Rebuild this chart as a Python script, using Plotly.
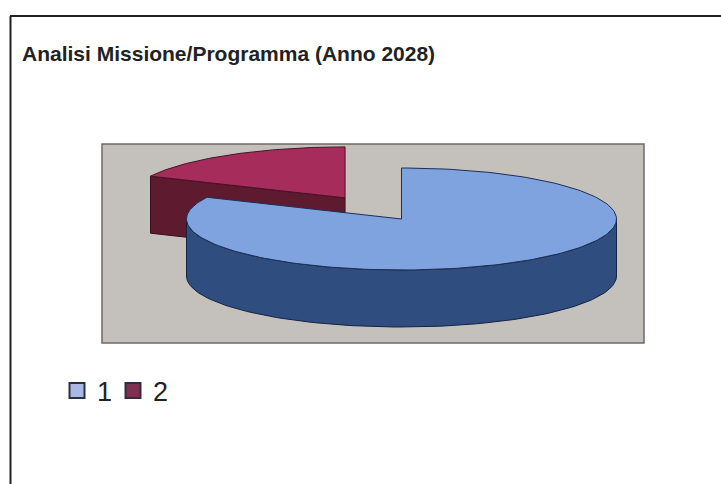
import numpy as np
import plotly.graph_objects as go

title = "Analisi Missione/Programma (Anno 2028)"
categories = ["1", "2"]
values = [82, 18]

top_colors = ["#7fa3de", "#a62c5c"]
side_colors = ["#2f4d7f", "#5e1a2e"]
swatch_colors = ["#a9b8e6", "#7d3050"]

W, H = 721, 484
cx, cy, rx, ry, depth = 401.5, 219, 215, 51, 57
explode = 0.49

fractions = np.array(values) / sum(values)
split = 2 * np.pi * fractions[0]


def pt(theta, ox=0.0, oy=0.0):
    return cx + ox + rx * np.sin(theta), cy + oy - ry * np.cos(theta)


fig = go.Figure()


def poly(x, y, fill, line="rgba(0,0,0,0)", width=1):
    fig.add_trace(go.Scatter(x=list(x) + [x[0]], y=list(y) + [y[0]], mode="lines", fill="toself",
                             fillcolor=fill, line=dict(color=line, width=width),
                             hoverinfo="skip", showlegend=False))


# exploded slice 2
mid = (split + 2 * np.pi) / 2
ox, oy = explode * rx * np.sin(mid), -explode * ry * np.cos(mid)
ax, ay = cx + ox, cy + oy
t2 = np.linspace(split, 2 * np.pi, 80)
ex, ey = pt(t2, ox, oy)
x0, y0 = pt(split, ox, oy)
poly([x0, ax, ax, x0], [y0, ay, ay + depth, y0 + depth], side_colors[1], "#3a1020")
poly([ax] + list(ex), [ay] + list(ey), top_colors[1], "#4a1226")

# slice 1: front wall, then top
t1 = np.linspace(np.pi / 2, 3 * np.pi / 2, 120)
sx, sy = pt(t1)
poly(list(sx) + list(sx[::-1]), list(sy) + list(sy[::-1] + depth), side_colors[0], "#14233f")
t1 = np.linspace(0, split, 200)
tx, ty = pt(t1)
poly([cx] + list(tx), [cy] + list(ty), top_colors[0], "#1c2f55")

# legend entries
for name, col in zip(categories, swatch_colors):
    fig.add_trace(go.Scatter(x=[None], y=[None], mode="markers", name=name,
                             marker=dict(symbol="square", size=15, color=col,
                                         line=dict(color="#2b3040", width=2))))

fig.update_layout(
    width=W, height=H, margin=dict(l=0, r=0, t=0, b=0),
    paper_bgcolor="white", plot_bgcolor="white",
    xaxis=dict(range=[0, W], visible=False, fixedrange=True),
    yaxis=dict(range=[H, 0], visible=False, fixedrange=True),
    title=dict(text=f"<b>{title}</b>", x=22 / W, xanchor="left", y=1 - 54 / H, yanchor="middle",
               font=dict(family="Liberation Sans", size=21, color="#222222")),
    legend=dict(orientation="h", x=57 / W, y=1 - 391 / H, xanchor="left", yanchor="middle",
                font=dict(family="Liberation Sans", size=27, color="#222222"),
                bgcolor="rgba(0,0,0,0)", itemwidth=30, entrywidth=11, entrywidthmode="pixels"),
    shapes=[
        dict(type="rect", xref="x", yref="y", x0=102, x1=644, y0=144, y1=343, layer="below",
             fillcolor="#c4c0bc", line=dict(color="#6e6a68", width=1.5)),
        dict(type="line", xref="x", yref="y", x0=10, x1=721, y0=16, y1=16,
             line=dict(color="#222222", width=2)),
        dict(type="line", xref="x", yref="y", x0=10.5, x1=10.5, y0=16, y1=484,
             line=dict(color="#222222", width=2)),
    ],
)
fig.write_html("out.html", config=dict(displayModeBar=False),
               post_script="document.body.style.margin='0';document.documentElement.style.overflow='hidden';")
